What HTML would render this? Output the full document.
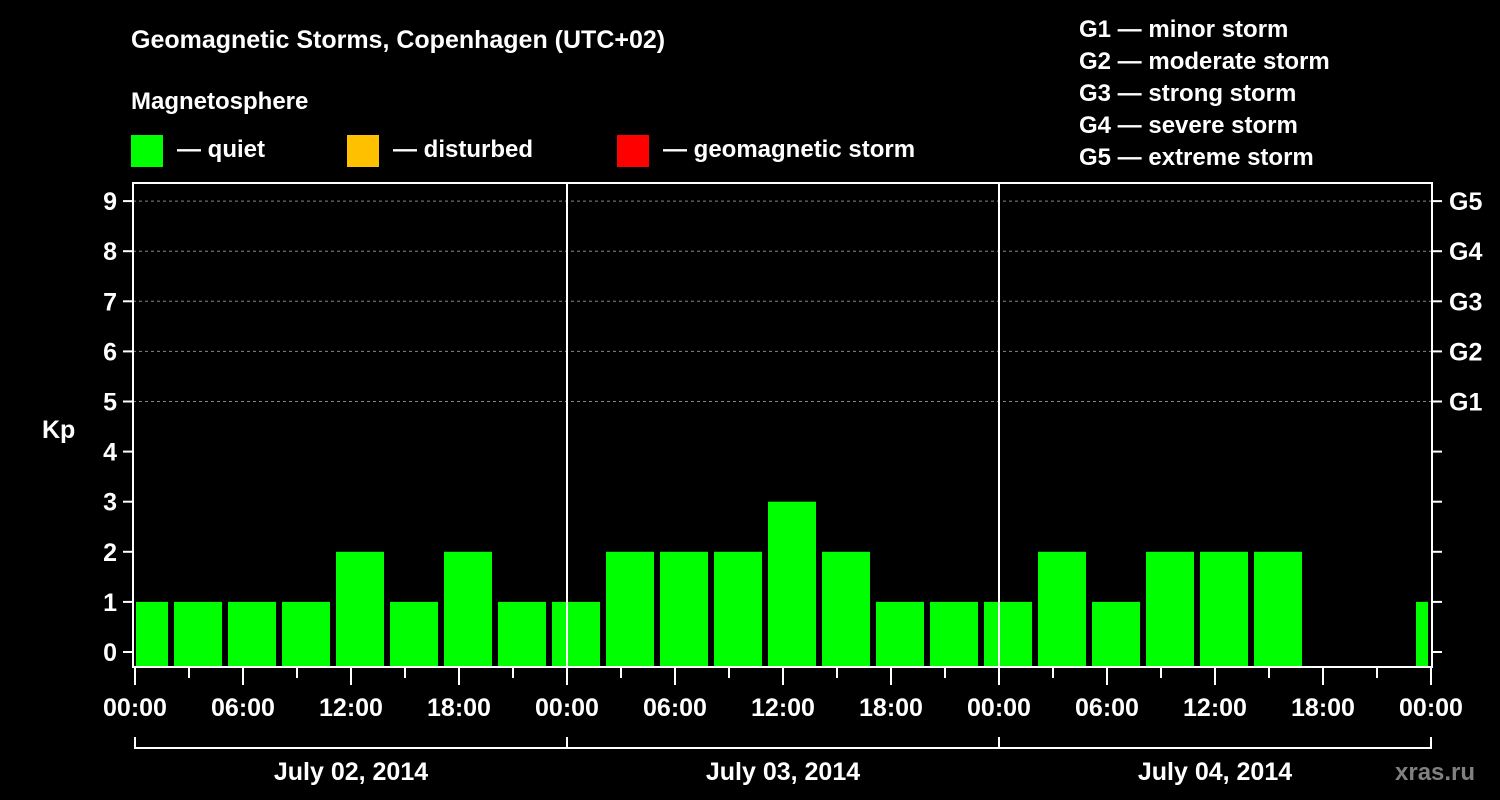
<!DOCTYPE html>
<html><head><meta charset="utf-8"><style>
html,body{margin:0;padding:0;background:#000;width:1500px;height:800px;overflow:hidden}
svg text{font-family:"Liberation Sans",Arial,sans-serif;font-weight:bold;fill:#fff}
</style></head><body>
<svg id="chart" width="1500" height="800" viewBox="0 0 1500 800" xmlns="http://www.w3.org/2000/svg">
<text x="131" y="48" font-size="25">Geomagnetic Storms, Copenhagen (UTC+02)</text>
<text x="131" y="109" font-size="24">Magnetosphere</text>
<g><rect x="131" y="135" width="32" height="32" fill="#00ff00"/><text x="177" y="157" font-size="24">— quiet</text></g>
<g><rect x="347" y="135" width="32" height="32" fill="#ffc000"/><text x="393" y="157" font-size="24">— disturbed</text></g>
<g><rect x="617" y="135" width="32" height="32" fill="#ff0000"/><text x="663" y="157" font-size="24">— geomagnetic storm</text></g>
<g font-size="24">
<text x="1079" y="37">G1 — minor storm</text>
<text x="1079" y="69">G2 — moderate storm</text>
<text x="1079" y="101">G3 — strong storm</text>
<text x="1079" y="133">G4 — severe storm</text>
<text x="1079" y="165">G5 — extreme storm</text>
</g>
<text x="42" y="438" font-size="25">Kp</text>
<text x="1395" y="780" font-size="24" style="fill:#808080">xras.ru</text>
<g id="grid"></g><g id="bars"></g><g id="axes"></g>
</svg>
<script>
const kpValues=[1,1,1,1,2,1,2,1, 1,2,2,2,3,2,1,1, 1,2,1,2,2,2,null,null,1];
const yTicks=[0,1,2,3,4,5,6,7,8,9];
const gLabels=["G1","G2","G3","G4","G5"];
const hourLabels=["00:00","06:00","12:00","18:00"];
const dayLabels=["July 02, 2014","July 03, 2014","July 04, 2014"];
const NS="http://www.w3.org/2000/svg";
const X0=135,DAY=432,L=133,R=1432,T=183,B=667;
const xh=h=>X0+h*DAY/24;
const y=v=>652-v*50.1;
function mk(tag,attrs,parent,txt){const e=document.createElementNS(NS,tag);for(const k in attrs)e.setAttribute(k,attrs[k]);if(txt!=null)e.textContent=txt;parent.appendChild(e);return e;}
const grid=document.getElementById('grid'),bars=document.getElementById('bars'),axes=document.getElementById('axes');
[5,6,7,8,9].forEach(v=>{const l=mk('line',{x1:L,x2:R,y1:y(v),y2:y(v),stroke:'#888','stroke-dasharray':'3,3','stroke-width':1},grid);

});
kpValues.forEach((v,k)=>{if(v==null)return;const c=xh(0.5+3*k);let x1=Math.max(c-24,L+3),x2=Math.min(c+24,R-4);if(x2<=x1)return;
const r=mk('rect',{x:x1,y:y(v),width:x2-x1,height:B-y(v),fill:'#00ff00'},bars);

});
const fr=mk('rect',{x:L,y:T,width:R-L,height:B-T,fill:'none',stroke:'#fff','stroke-width':2},axes);


[1,2].forEach(d=>{mk('line',{x1:xh(24*d),x2:xh(24*d),y1:T,y2:B,stroke:'#fff','stroke-width':2},axes);});
yTicks.forEach(v=>{mk('line',{x1:L-10,x2:L,y1:y(v),y2:y(v),stroke:'#fff','stroke-width':2},axes);
mk('line',{x1:R,x2:R+10,y1:y(v),y2:y(v),stroke:'#fff','stroke-width':2},axes);
const t=mk('text',{x:117,y:y(v)+9,'font-size':25,'text-anchor':'end'},axes,String(v));

});
gLabels.forEach((g,i)=>{const t=mk('text',{x:1449,y:y(5+i)+9,'font-size':25},axes,g);

});
for(let h=0;h<=72;h+=3){const major=h%6===0;mk('line',{x1:xh(h),x2:xh(h),y1:B,y2:major?685:678,stroke:'#fff','stroke-width':2},axes);
if(major){const t=mk('text',{x:xh(h),y:716,'font-size':25,'text-anchor':'middle'},axes,hourLabels[(h/6)%4]);

}}
dayLabels.forEach((d,i)=>{const a=xh(24*i),b=xh(24*i+24);
mk('path',{d:`M${a} 737V748H${b}V737`,fill:'none',stroke:'#fff','stroke-width':2},axes);
const t=mk('text',{x:(a+b)/2,y:780,'font-size':25,'text-anchor':'middle'},axes,d);

});
</script>
</body></html>
